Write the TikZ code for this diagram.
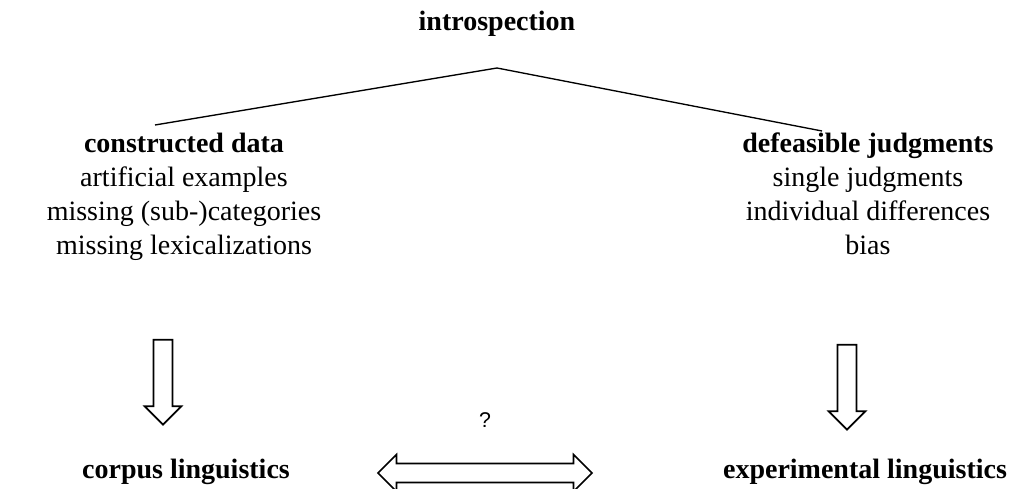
\documentclass[tikz,border=0pt]{standalone}
\usepackage{fontspec}
\setmainfont{Liberation Serif}
\newfontfamily\qmarkfont{Liberation Sans}
\usetikzlibrary{shapes.arrows, positioning}

\begin{document}
\begin{tikzpicture}[x=0.75pt,y=-0.75pt,
    every node/.style={font=\fontsize{21}{25.5}\selectfont, inner sep=0pt},
    title/.style={font=\fontsize{21}{25.5}\selectfont\bfseries, anchor=base},
    block/.style={align=center, anchor=north},
    bigarrow/.style={single arrow, draw, line width=1.3pt, inner xsep=0pt, inner ysep=6.4pt,
        single arrow head extend=6.75pt, minimum height=63.75pt, rotate=-90},
    dblarrow/.style={double arrow, draw, line width=1.3pt, inner xsep=0pt, inner ysep=6.4pt,
        double arrow head extend=6.75pt, minimum height=160.5pt}]
    \useasboundingbox (0,0) rectangle (1011,489);

    \node[title] (intro) at (497,31) {introspection};
    \coordinate (top) at (497,68);
    \coordinate (lft) at (155,125);
    \coordinate (rgt) at (822,131);

    \node[block] (constr) at (184,133) {\textbf{constructed data}\\artificial examples\\missing (sub-)categories\\missing lexicalizations};
    \node[block] (defeas) at (868,133) {\textbf{defeasible judgments}\\single judgments\\individual differences\\bias};

    \node[bigarrow] (down1) at (163,377.5) {};
    \node[bigarrow] (down2) at (847,382.5) {};

    \node[title] (corpus) at (186,478) {corpus linguistics};
    \node[title] (experi) at (865,478) {experimental linguistics};
    \node[dblarrow] (both) at (485,473) {};
    \node[font=\qmarkfont\fontsize{16}{19}\selectfont, above=26pt of both] (qmark) {?};

    \draw[line width=1pt] (lft) -- (top) -- (rgt);
\end{tikzpicture}
\end{document}
